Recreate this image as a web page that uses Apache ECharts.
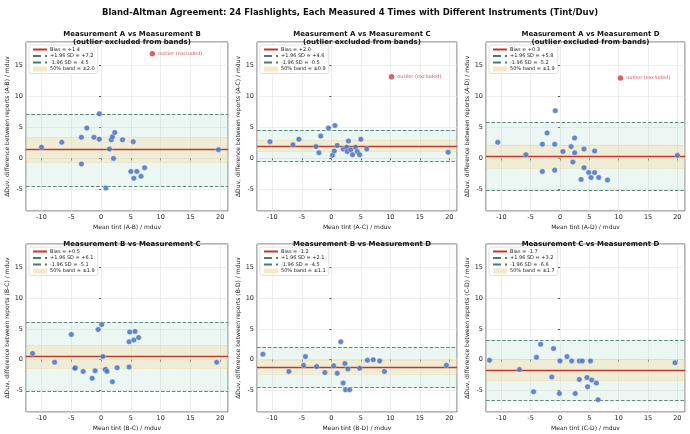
<!DOCTYPE html>
<html>
<head>
<meta charset="utf-8">
<script src="https://cdn.jsdelivr.net/npm/echarts@6/dist/echarts.min.js"></script>
<style>
  html, body { margin: 0; padding: 0; background: #fff; }
  #chart { width: 690px; height: 434px; }
</style>
</head>
<body>
<div id="chart"></div>
<script>
// pair labels and per-panel stats
const pairs = ['A-B', 'A-C', 'A-D', 'B-C', 'B-D', 'C-D'];
const biasValues = [1.4, 2.0, 0.3, 0.5, -1.2, -1.7];
const upperLoA = [7.2, 4.6, 5.8, 6.1, 2.1, 3.2];
const lowerLoA = [-4.5, -0.5, -5.2, -5.1, -4.5, -6.6];
const halfBand = [2.0, 0.9, 1.9, 1.9, 1.1, 1.7];

// mean tint (x) and difference (y) per pair
const meanAB = [-10.0, -6.6, -3.3, -2.4, -3.3, -1.2, -0.3, -0.3, 0.8, 1.4, 1.7, 1.9, 2.3, 2.1, 3.6, 5.4, 5.0, 5.5, 6.0, 6.7, 7.3, 19.7];
const diffAB = [1.8, 2.6, 3.4, 4.9, -0.9, 3.4, 7.2, 3.1, -4.8, 1.5, 3.0, 3.5, 4.2, 0.0, 3.0, 2.7, -2.1, -3.2, -2.1, -2.9, -1.5, 1.4];
const meanAC = [-10.4, -6.5, -5.5, -1.8, -2.6, -2.1, -0.5, 0.6, 0.2, 0.5, 1.0, 2.0, 2.6, 2.7, 2.9, 3.3, 3.6, 4.1, 4.4, 4.8, 5.0, 6.0, 19.8];
const diffAC = [2.7, 2.2, 3.1, 3.6, 1.9, 0.9, 4.9, 5.3, 0.5, 1.2, 2.1, 1.5, 1.8, 1.1, 2.8, 1.4, 0.6, 1.8, 1.1, 0.6, 3.1, 1.5, 1.0];
const meanAD = [-10.6, -5.8, -2.2, -3.0, -3.0, -0.9, -0.8, -0.9, 0.5, 1.9, 2.5, 2.5, 2.2, 4.1, 4.1, 3.6, 4.9, 5.3, 5.9, 5.9, 6.6, 8.1, 20.0];
const diffAD = [2.6, 0.6, 4.1, 2.3, -2.1, 2.3, 7.7, -1.9, 1.1, 1.9, 3.3, 0.9, -0.6, 1.5, -1.5, -3.4, -2.3, -3.1, 1.2, -2.3, -3.1, -3.5, 0.5];
const meanBC = [-11.5, -7.8, -5.0, -4.3, -4.4, -3.0, -1.5, -1.0, -0.5, 0.1, 0.3, 0.8, 0.7, 1.0, 1.9, 2.7, 4.7, 4.7, 4.8, 5.5, 5.7, 6.3, 19.4];
const diffBC = [1.0, -0.4, 4.1, -1.3, -1.4, -1.9, -3.0, -1.8, 4.9, 5.7, 0.5, -1.6, -1.6, -1.9, -3.6, -1.3, -1.2, 2.9, 4.5, 3.2, 4.6, 3.6, -0.4];
const meanBD = [-11.6, -7.2, -4.7, -4.4, -2.5, -1.1, 0.4, 1.0, 1.6, 2.0, 2.3, 2.8, 2.4, 3.1, 4.8, 6.1, 7.1, 8.2, 9.0, 19.5];
const diffBD = [0.9, -1.9, -0.9, 0.5, -1.1, -2.1, -1.0, -2.2, 2.9, -3.8, -0.6, -1.5, -4.9, -4.9, -1.4, -0.1, 0.0, -0.2, -1.9, -0.9];
const meanCD = [-12.0, -6.9, -3.3, -4.0, -4.5, -1.4, -1.1, -0.1, 0.0, 1.2, 2.0, 2.6, 3.3, 3.3, 3.8, 4.6, 4.7, 5.2, 5.4, 6.2, 6.5, 19.6];
const diffCD = [-0.1, -1.6, 2.5, 0.4, -5.2, -2.8, 1.8, -5.5, -0.2, 0.5, -0.2, -5.5, -3.2, -0.2, -0.2, -2.9, -4.4, -0.2, -3.3, -3.8, -6.5, -0.5];

const meanValues = [meanAB, meanAC, meanAD, meanBC, meanBD, meanCD];
const diffValues = [diffAB, diffAC, diffAD, diffBC, diffBD, diffCD];

// excluded outlier (top row only)
const outlierMean = [8.6, 10.2, 10.3];
const outlierDiff = [16.9, 13.2, 13.0];

const xRange = [-12.6, 21.3];
const yRange = [-8.5, 18.8];

const gridLefts = [26, 257, 486];
const gridWidths = [202, 200, 199];
const gridTops = [42, 244];
const gridHeights = [169, 168];

const FONT = 'DejaVu Sans';
const biasColor = '#c0392b';
const loaColor = '#4a7f70';
const pointColor = '#4a72c4';

function fmt(v) {
    return (v >= 0 ? '+' : '-') + Math.abs(v).toFixed(1);
}

let grids = [], xAxes = [], yAxes = [], series = [], legends = [];
let titles = [{
    text: 'Bland-Altman Agreement: 24 Flashlights, Each Measured 4 Times with Different Instruments (Tint/Duv)',
    left: 345, top: 3, textAlign: 'center',
    textStyle: {fontFamily: FONT, fontSize: 8.5, fontWeight: 'bold', color: '#111'}
}];

for (let i = 0; i < 6; i++) {
    let col = i % 3;
    let row = Math.floor(i / 3);
    let left = gridLefts[col], top = gridTops[row];
    let w = gridWidths[col], h = gridHeights[row];
    let pair = pairs[i];
    let a = pair[0], b = pair[2];

    grids.push({left: left, top: top, width: w, height: h, show: true,
        borderColor: '#6b6b6b', borderWidth: 1, backgroundColor: 'transparent'});

    let titleText = 'Measurement ' + a + ' vs Measurement ' + b;
    if (row === 0) titleText += '\n(outlier excluded from bands)';
    titles.push({
        text: titleText, left: left + w / 2, top: row === 0 ? 25 : 235, textAlign: 'center',
        textStyle: {fontFamily: FONT, fontSize: 7, fontWeight: 'bold', color: '#111', lineHeight: 8}
    });

    xAxes.push({
        type: 'value', gridIndex: i, min: xRange[0], max: xRange[1],
        name: 'Mean tint (' + pair + ') / mduv', nameLocation: 'middle', nameGap: 13,
        nameTextStyle: {fontFamily: FONT, fontSize: 6, color: '#222'},
        axisLine: {show: false},
        axisTick: {show: true, length: 2, lineStyle: {color: '#555'}},
        axisLabel: {fontFamily: FONT, fontSize: 6.5, color: '#222', margin: 3,
            showMinLabel: false, showMaxLabel: false},
        splitLine: {show: true, lineStyle: {color: '#e2e2e2', width: 0.6}}
    });
    yAxes.push({
        type: 'value', gridIndex: i, min: yRange[0], max: yRange[1],
        name: '\u0394Duv, difference between reports (' + pair + ') / mduv',
        nameLocation: 'middle', nameGap: 15, nameRotate: 90,
        nameTextStyle: {fontFamily: FONT, fontSize: 6, color: '#222'},
        axisLine: {show: false},
        axisTick: {show: true, length: 2, lineStyle: {color: '#555'}},
        axisLabel: {fontFamily: FONT, fontSize: 6.5, color: '#222', margin: 3,
            showMinLabel: false, showMaxLabel: false},
        splitLine: {show: true, lineStyle: {color: '#e2e2e2', width: 0.6}}
    });

    let bias = biasValues[i];
    let biasName = 'Bias = ' + fmt(bias);
    let upName = '+1.96 SD = ' + fmt(upperLoA[i]);
    let loName = '-1.96 SD = ' + fmt(lowerLoA[i]);
    let bandName = '50% band = \u00b1' + halfBand[i].toFixed(1);
    let axisRef = {xAxisIndex: i, yAxisIndex: i};

    // limits-of-agreement fill
    series.push(Object.assign({
        name: '_loa' + i, type: 'line', data: [], z: 1, silent: true,
        markArea: {silent: true, itemStyle: {color: 'rgba(170, 220, 205, 0.22)'},
            data: [[{yAxis: lowerLoA[i]}, {yAxis: upperLoA[i]}]]}
    }, axisRef));
    // 50% band
    series.push(Object.assign({
        name: bandName, type: 'line', data: [], z: 2, silent: true,
        itemStyle: {color: '#f8e8c6'}, lineStyle: {color: '#f8e8c6'},
        markArea: {silent: true, itemStyle: {color: 'rgba(248, 215, 150, 0.3)'},
            data: [[{yAxis: bias - halfBand[i]}, {yAxis: bias + halfBand[i]}]]},
        markLine: {silent: true, symbol: 'none', label: {show: false},
            lineStyle: {color: '#efc77a', width: 0.6, type: 'dotted'},
            data: [{yAxis: bias - halfBand[i]}, {yAxis: bias + halfBand[i]}]}
    }, axisRef));
    // +/-1.96 SD lines
    [[upName, upperLoA[i]], [loName, lowerLoA[i]]].forEach(function (item) {
        series.push(Object.assign({
            name: item[0], type: 'line', data: [], z: 3, silent: true, symbol: 'none',
            itemStyle: {color: loaColor}, lineStyle: {color: loaColor, type: 'dashed', width: 1},
            markLine: {silent: true, symbol: 'none', label: {show: false},
                lineStyle: {color: loaColor, type: 'dashed', width: 0.9},
                data: [{yAxis: item[1]}]}
        }, axisRef));
    });
    // bias line
    series.push(Object.assign({
        name: biasName, type: 'line', data: [], z: 4, silent: true, symbol: 'none',
        itemStyle: {color: biasColor}, lineStyle: {color: biasColor, width: 1.5},
        markLine: {silent: true, symbol: 'none', label: {show: false},
            lineStyle: {color: biasColor, type: 'solid', width: 1.3},
            data: [{yAxis: bias}]}
    }, axisRef));
    // points
    series.push(Object.assign({
        name: 'points' + i, type: 'scatter', z: 5, symbolSize: 5.5,
        itemStyle: {color: pointColor, opacity: 0.85, borderColor: '#fff', borderWidth: 0.4},
        data: meanValues[i].map(function (x, k) { return [x, diffValues[i][k]]; })
    }, axisRef));
    if (row === 0) {
        series.push(Object.assign({
            name: 'outlier' + i, type: 'scatter', z: 5, symbolSize: 5.5,
            itemStyle: {color: '#d9534f', opacity: 0.9},
            label: {show: true, position: 'right', distance: 3, formatter: 'outlier (excluded)',
                fontFamily: FONT, fontSize: 5, color: '#c9504c'},
            data: [[outlierMean[i], outlierDiff[i]]]
        }, axisRef));
    }

    legends.push({
        left: left + 3, top: top + 3, orient: 'vertical',
        backgroundColor: 'rgba(255,255,255,0.9)', borderColor: '#cccccc', borderWidth: 0.6,
        borderRadius: 2, padding: [2, 3, 2, 3], itemGap: 1.5, itemWidth: 14, itemHeight: 5,
        selectedMode: false,
        itemStyle: {opacity: 0},
        textStyle: {fontFamily: FONT, fontSize: 5, color: '#222', padding: [0, 0, 0, -2]},
        data: [
            {name: biasName},
            {name: upName},
            {name: loName},
            {name: bandName, icon: 'rect', itemStyle: {color: '#f8e8c6', opacity: 1}}
        ]
    });
}

let myChart = echarts.init(document.getElementById('chart'), null, {renderer: 'canvas'});
myChart.setOption({
    animation: false,
    backgroundColor: '#fff',
    title: titles,
    grid: grids,
    xAxis: xAxes,
    yAxis: yAxes,
    legend: legends,
    series: series
});
</script>
</body>
</html>
